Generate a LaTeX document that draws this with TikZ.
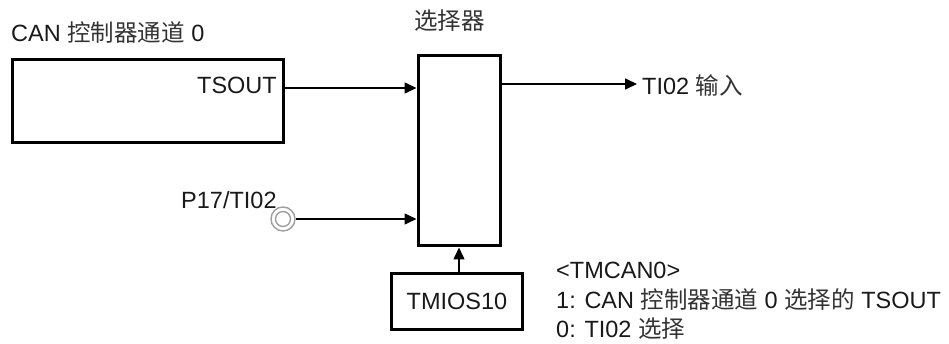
\documentclass[tikz,border=0pt]{standalone}
\usepackage{fontspec}
\setmainfont{Liberation Sans}
\newfontfamily\cjk{Noto Sans CJK SC}
\usetikzlibrary{arrows.meta}
\newcommand{\zh}[1]{{\cjk\color{black!80}#1}}
\begin{document}
\begin{tikzpicture}[x=1pt,y=-1pt,
  every node/.style={font=\fontsize{23.5}{28}\selectfont, text=black!90},
  blk/.style={draw, line width=3pt, inner sep=0pt},
  arr/.style={line width=1.5pt, -{Triangle[length=12pt,width=11pt]}},
  lbl/.style={inner sep=0pt}]
\useasboundingbox (0,0) rectangle (949,344);
% boxes
\node[blk, minimum width=271pt, minimum height=83pt] (can) at (147.5,101.5) {};
\node[blk, minimum width=82pt, minimum height=190pt] (sel) at (459,151) {};
\node[blk, minimum width=131pt, minimum height=55pt] (tmios) at (456.5,301.5) {};
\node[lbl, anchor=base] at (457,309) {TMIOS10};
% labels
\node[lbl, anchor=base west] (canlbl) at (11,42) {CAN \zh{控制器通道} 0};
\node[lbl, anchor=base west] (sellbl) at (414,30) {\zh{选择器}};
\node[lbl, anchor=base east] (tsout) at (277,94) {TSOUT};
\node[lbl, anchor=base west] (p17lbl) at (181,209) {P17/TI02};
% pin
\node[circle, minimum size=26pt, inner sep=0pt] (pin) at (283,219) {};
\draw[gray!75, line width=1.4pt] (pin.center) circle[radius=12pt];
\draw[gray!75, line width=1.4pt] (pin.center) circle[radius=7.5pt];
% output
\coordinate (out) at (637,84);
\node[lbl, anchor=base west] (outlbl) at (642,95) {TI02 \zh{输入}};
% connectors
\draw[arr] (pin.east) -- (sel.west |- pin.east);
\draw[arr] (can.east |- 0,88) -- (sel.west |- 0,88);
\draw[arr] (sel.east |- out) -- (out);
\draw[arr] (tmios.north -| sel.south) -- (sel.south);
% legend
\node[lbl, anchor=base west] (l1) at (556,279) {<TMCAN0>};
\node[lbl, anchor=base west] (l2) at (556,308) {1: CAN \zh{控制器通道} 0 \zh{选择的} TSOUT};
\node[lbl, anchor=base west] (l3) at (556,337) {0: TI02 \zh{选择}};
\end{tikzpicture}
\end{document}
